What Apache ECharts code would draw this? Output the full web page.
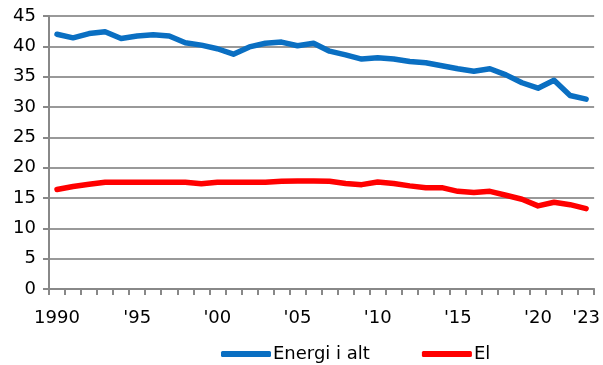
<!DOCTYPE html>
<html>
<head>
	<meta charset="utf-8" />
	<title>Energi</title>
	<style>
		html, body { margin: 0; padding: 0; background: #fff; }
		#main { width: 603px; height: 365px; }
	</style>
</head>
<body>
	<div id="main"></div>
	<script src="https://cdn.jsdelivr.net/npm/echarts@6/dist/echarts.min.js"></script>
	<script type="text/javascript">
		// år 1990-2023
		var years = ['1990','1991','1992','1993','1994','1995','1996','1997','1998','1999',
			'2000','2001','2002','2003','2004','2005','2006','2007','2008','2009',
			'2010','2011','2012','2013','2014','2015','2016','2017','2018','2019',
			'2020','2021','2022','2023'];
		var yearLabels = {'1990':'1990','1995':"'95",'2000':"'00",'2005':"'05",'2010':"'10",
			'2015':"'15",'2020':"'20",'2023':"'23"};
		var energiIAlt = [42.0, 41.4, 42.1, 42.4, 41.3, 41.7, 41.9, 41.7, 40.6, 40.2,
			39.6, 38.7, 39.9, 40.5, 40.7, 40.1, 40.5, 39.2, 38.6, 37.9,
			38.1, 37.9, 37.5, 37.3, 36.8, 36.3, 35.9, 36.3, 35.3, 34.0,
			33.1, 34.4, 31.9, 31.3];
		var el = [16.4, 16.9, 17.25, 17.6, 17.6, 17.6, 17.6, 17.6, 17.6, 17.35,
			17.6, 17.6, 17.6, 17.6, 17.75, 17.8, 17.8, 17.75, 17.4, 17.2,
			17.65, 17.4, 17.0, 16.7, 16.7, 16.1, 15.9, 16.1, 15.45, 14.8,
			13.7, 14.3, 13.9, 13.25];

		var font = 'DejaVu Sans';
		var myChart = echarts.init(document.getElementById('main'));
		myChart.setOption({
			animation: false,
			textStyle: { fontFamily: font },
			grid: { left: 49, right: 6, top: 16, bottom: 76 },
			legend: {
				top: 340,
				left: 216,
				itemWidth: 50,
				itemHeight: 6,
				itemGap: 52,
				icon: 'roundRect',
				textStyle: { fontFamily: font, fontSize: 18, color: '#000', padding: [0, 0, 0, -3] },
				data: ['Energi i alt', 'El']
			},
			xAxis: {
				type: 'category',
				data: years,
				boundaryGap: true,
				axisLine: { lineStyle: { color: '#888', width: 2 } },
				axisTick: { show: true, interval: 0, length: 6, lineStyle: { color: '#888', width: 2 } },
				axisLabel: {
					interval: 0,
					margin: 20,
					fontSize: 18,
					color: '#000',
					fontFamily: font,
					formatter: function (v) { return yearLabels[v] || ''; }
				}
			},
			yAxis: {
				type: 'value',
				min: 0,
				max: 45,
				interval: 5,
				axisLine: { show: true, lineStyle: { color: '#888', width: 2 } },
				axisTick: { show: true, length: 6, lineStyle: { color: '#888', width: 2 } },
				axisLabel: { margin: 13, fontSize: 18, color: '#000', fontFamily: font },
				splitLine: { lineStyle: { color: '#999', width: 2 } }
			},
			series: [
				{
					name: 'Energi i alt',
					type: 'line',
					data: energiIAlt,
					symbol: 'none',
					color: '#0a6fc2',
					lineStyle: { width: 5.5, color: '#0a6fc2', cap: 'round', join: 'round' }
				},
				{
					name: 'El',
					type: 'line',
					data: el,
					symbol: 'none',
					color: '#ff0000',
					lineStyle: { width: 5.5, color: '#ff0000', cap: 'round', join: 'round' }
				}
			]
		});
	</script>
</body>
</html>
